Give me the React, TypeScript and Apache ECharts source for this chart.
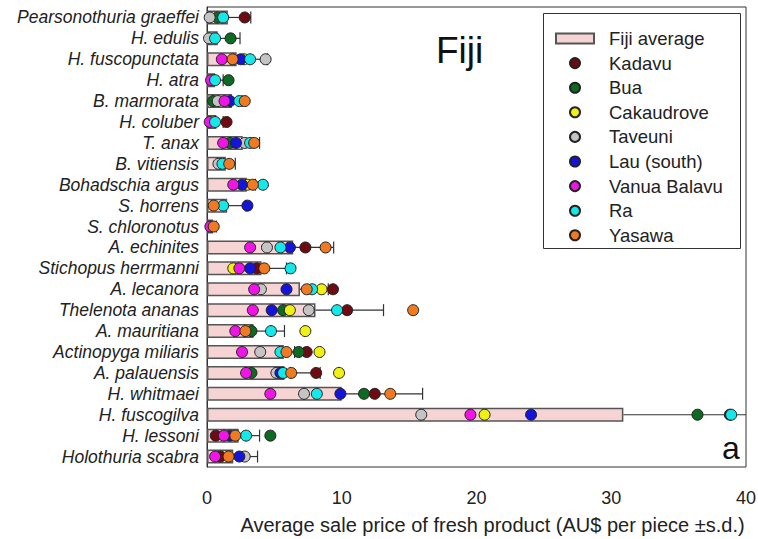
import React, { useEffect, useRef } from "react";
import * as echarts from "echarts";

const categories = [
  "Pearsonothuria graeffei", "H. edulis", "H. fuscopunctata", "H. atra", "B. marmorata",
  "H. coluber", "T. anax", "B. vitiensis", "Bohadschia argus", "S. horrens", "S. chloronotus",
  "A. echinites", "Stichopus herrmanni", "A. lecanora", "Thelenota ananas", "A. mauritiana",
  "Actinopyga miliaris", "A. palauensis", "H. whitmaei", "H. fuscogilva", "H. lessoni",
  "Holothuria scabra",
];

const fijiAverage = [1.55, 0.8, 2.2, 0.6, 1.85, 0.7, 2.65, 1.4, 2.95, 1.5, 0.45, 6.4, 4.05, 6.9, 8.05, 3.45, 5.7, 5.75, 10.0, 30.9, 2.35, 1.95];
const fijiSd = [1.7, 1.65, 2.3, 0.6, 0.75, 0.5, 1.25, 0.7, 0.65, 1.4, 0.25, 3.0, 1.85, 2.1, 5.05, 2.3, 0.8, 2.65, 6.0, 10.0, 1.55, 1.8];

const kadavu = [2.8, null, null, null, null, 1.45, null, null, null, null, null, 7.3, 3.7, 9.35, 10.4, null, 7.4, 8.1, 12.45, 38.8, 0.65, 1.0];
const bua = [0.75, 1.75, null, 1.6, 0.45, null, 1.7, null, null, null, null, null, null, null, 5.65, 3.3, 6.8, 3.3, 11.65, 36.4, 4.7, null];
const cakaudrove = [null, null, 2.75, null, null, null, null, null, 3.0, null, null, null, 1.95, 8.5, 6.15, 7.3, 8.35, 9.8, null, 20.6, null, null];
const taveuni = [0.2, 0.15, 4.35, null, 0.8, null, 2.8, 0.85, null, null, null, 4.45, null, 4.0, 7.55, null, 3.95, 5.15, 7.2, 15.9, null, 2.8];
const lauSouth = [null, null, 2.5, null, 1.7, null, 2.15, null, 2.6, 3.0, null, 6.15, 3.2, 5.9, 4.8, null, null, 5.45, 9.9, 24.05, 1.7, 2.4];
const vanuaBalavu = [null, null, 1.1, 0.3, 1.3, 0.2, 1.2, null, 1.95, null, 0.25, 3.2, 2.4, 3.5, 3.4, 2.1, 2.6, 2.9, 4.7, 19.55, 1.25, 0.6];
const ra = [1.2, 0.6, 3.2, 0.6, 2.4, 0.6, 3.2, 1.15, 4.15, 1.2, null, 5.45, 6.2, 7.8, 9.65, 4.75, 5.45, 5.65, 8.15, 38.9, 2.9, null];
const yasawa = [null, null, 1.9, null, 2.8, null, 3.5, 1.65, 3.4, 0.5, 0.5, 8.8, 4.25, 7.4, 15.3, 2.85, 5.9, 6.25, 13.6, null, 2.1, 1.6];

const regionNames = ["Kadavu", "Bua", "Cakaudrove", "Taveuni", "Lau (south)", "Vanua Balavu", "Ra", "Yasawa"];
const regionValues = [kadavu, bua, cakaudrove, taveuni, lauSouth, vanuaBalavu, ra, yasawa];
const regionColors = ["#6e0a12", "#0c6a22", "#f0f014", "#c4c4c4", "#1414dc", "#f014e6", "#14e8e8", "#f07a22"];

const xTicks = [0, 10, 20, 30, 40];
const FONT = "'Liberation Sans', Arial, Helvetica, sans-serif";

export default function App() {
  const ref = useRef<HTMLDivElement>(null);
  useEffect(() => {
    if (!ref.current) return;
    document.body.style.margin = "0";
    const chart = echarts.init(ref.current, undefined, { renderer: "svg" });
    const xMax = xTicks[xTicks.length - 1];

    const scatterSeries = regionNames.map((name, r) => ({
      name,
      type: "scatter",
      symbol: "circle",
      symbolSize: 11,
      z: 5 + r,
      itemStyle: { color: regionColors[r], borderColor: "#222", borderWidth: 1, opacity: 1 },
      data: regionValues[r]
        .map((v, i) => [v, i])
        .filter((d) => d[0] !== null),
    }));

    chart.setOption({
      animation: false,
      textStyle: { fontFamily: FONT },
      grid: {
        left: 207, right: 12, top: 7, bottom: 72,
        show: true, borderColor: "#333", borderWidth: 1,
        containLabel: false, outerBoundsMode: "none",
      },
      xAxis: {
        type: "value",
        min: 0,
        max: xMax,
        interval: 5,
        name: "Average sale price of fresh product (AU$ per piece \u00b1s.d.)",
        nameLocation: "middle",
        nameGap: 48,
        nameMoveOverlap: false,
        nameTextStyle: { fontSize: 20, color: "#222", fontFamily: FONT, padding: [0, 0, 0, 32] },
        axisLine: { lineStyle: { color: "#333" } },
        axisTick: { length: 6, lineStyle: { color: "#333" } },
        axisLabel: {
          fontSize: 18,
          color: "#222",
          margin: 22,
          formatter: (v: number) => (xTicks.indexOf(v) >= 0 ? String(v) : ""),
        },
        splitLine: { show: false },
      },
      yAxis: {
        type: "category",
        inverse: true,
        data: categories,
        axisLine: { lineStyle: { color: "#333" } },
        axisTick: { alignWithLabel: true, interval: 0, length: 4, lineStyle: { color: "#333" } },
        axisLabel: { interval: 0, fontSize: 17.5, fontStyle: "italic", color: "#222", margin: 8, fontFamily: FONT },
      },
      legend: {
        orient: "vertical",
        left: 550,
        top: 24,
        itemWidth: 38,
        itemHeight: 10,
        itemGap: 5.6,
        textStyle: { fontSize: 18.5, lineHeight: 17, color: "#222", fontFamily: FONT, padding: [0, 0, 0, 10] },
        data: [{ name: "Fiji average", icon: "rect" }, ...regionNames.map((n) => ({ name: n, icon: "circle" }))],
      },
      graphic: [
        {
          type: "rect",
          left: 543,
          top: 13,
          shape: { width: 197, height: 235 },
          style: { fill: "#fff", stroke: "#333", lineWidth: 1 },
          z: -1,
        },
        {
          type: "text",
          left: 436,
          top: 32,
          style: { text: "Fiji", fontSize: 37, fill: "#111", fontFamily: FONT },
        },
        {
          type: "text",
          left: 722,
          top: 432,
          style: { text: "a", fontSize: 32, fill: "#111", fontFamily: FONT },
        },
      ],
      series: [
        {
          name: "Fiji average",
          type: "bar",
          barWidth: 14,
          z: 2,
          itemStyle: { color: "#f7d4d4", borderColor: "#555", borderWidth: 1.5 },
          data: fijiAverage,
        },
        {
          name: "sd",
          type: "custom",
          z: 3,
          renderItem: (params: any, api: any) => {
            const mean = api.value(0);
            const end = api.value(1);
            const idx = api.value(2);
            const p0 = api.coord([mean, idx]);
            const p1 = api.coord([Math.min(end, xMax), idx]);
            const children: any[] = [
              { type: "line", shape: { x1: p0[0], y1: p0[1], x2: p1[0], y2: p1[1] }, style: { stroke: "#333", lineWidth: 1.2 } },
            ];
            if (end <= xMax) {
              children.push({
                type: "line",
                shape: { x1: p1[0], y1: p1[1] - 6, x2: p1[0], y2: p1[1] + 6 },
                style: { stroke: "#333", lineWidth: 1.2 },
              });
            }
            return { type: "group", children };
          },
          encode: { x: [0, 1], y: 2 },
          data: fijiAverage.map((m, i) => [m, m + fijiSd[i], i]),
        },
        ...scatterSeries,
      ],
    });
    return () => chart.dispose();
  }, []);
  return <div ref={ref} style={{ width: 758, height: 539 }} />;
}
